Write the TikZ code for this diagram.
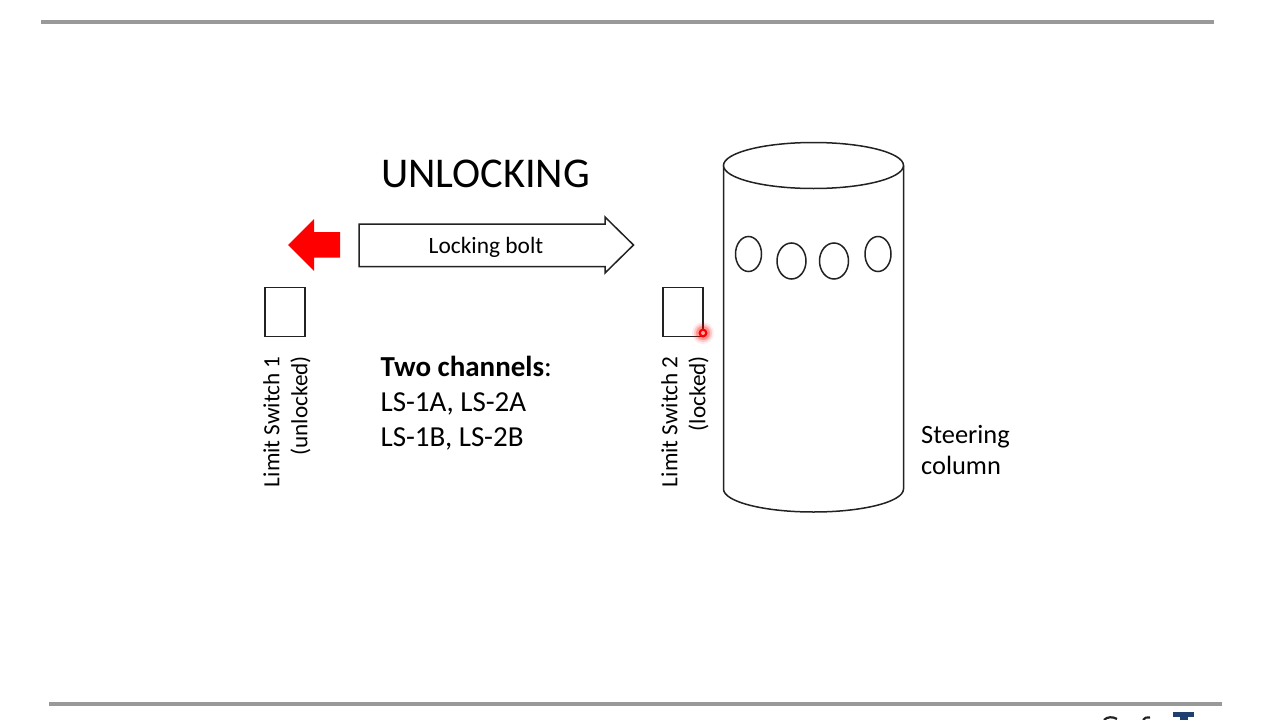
\documentclass[tikz,border=0pt]{standalone}
\usepackage{fontspec}
\setmainfont{Carlito}
\definecolor{rulegray}{HTML}{999999}
\definecolor{logoblue}{HTML}{1F3F6E}
\definecolor{ink}{HTML}{222222}
\tikzset{
  outline/.style={draw=ink,line width=1.5pt,fill=white},
  rulebar/.style={draw=rulegray,line width=3.6pt},
  label/.style={text=black,font=\fontsize{29}{30}\selectfont,inner sep=0pt,anchor=base west},
  vlabel/.style={text=black,font=\fontsize{23.2}{28}\selectfont,inner sep=0pt,rotate=90,align=right},
}
\begin{document}
\begin{tikzpicture}[x=1pt,y=-1pt]
\useasboundingbox[fill=white] (0,0) rectangle (1280,720);
\clip (0,0) rectangle (1280,720);
% rules
\draw[rulebar] (41,22) -- (1214,22);
\draw[rulebar] (49,704) -- (1222,704);
% logo fragment, cut by the page edge
\fill[logoblue] (1173,712) rectangle (1194,716.500);
\fill[logoblue] (1180,716) rectangle (1188,720);
\draw[ink,line width=2.2pt] (1104,720) .. controls (1107,716.500) and (1113,716.500) .. (1117,719);
\draw[ink,line width=2.2pt] (1143,720) .. controls (1144,717.500) and (1147,717) .. (1150,717.500);
% title
\node[text=black,font=\fontsize{42.4}{44}\selectfont,inner sep=0pt,anchor=base] (title) at (485.5,187) {UNLOCKING};
% red arrow
\fill[red] (340,232) -- (314,232) -- (314,219) -- (288,245) -- (314,271) -- (314,257.500) -- (340,257.500) -- cycle;
% bolt
\draw[outline,line join=miter] (359,224) -- (605,224) -- (605,217) -- (633.500,245) -- (605,273) -- (605,266.500) -- (359,266.500) -- cycle;
\node[text=black,font=\fontsize{23.4}{26}\selectfont,inner sep=0pt] (bolt) at (486,247) {Locking bolt};
% limit switches
\node[outline,minimum width=40pt,minimum height=49pt,inner sep=0pt] (ls1) at (285,312) {};
\node[outline,minimum width=40pt,minimum height=49pt,inner sep=0pt] (ls2) at (683,312) {};
\node[vlabel,anchor=north east] (ls1t) at (263,356) {Limit Switch 1\\(unlocked)};
\node[vlabel,anchor=north east] (ls2t) at (661,356) {Limit Switch 2\\(locked)};
% text
\node[label] (ch0) at (380.500,376) {\textbf{Two channels}:};
\node[label] (ch1) at (380.500,411) {LS-1A, LS-2A};
\node[label] (ch2) at (380.500,446) {LS-1B, LS-2B};
% column
\draw[outline] (723.500,165.500) -- (723.500,489) arc[x radius=90,y radius=23,start angle=180,end angle=0] -- (903.500,165.500);
\draw[outline] (813.500,165.500) ellipse[x radius=90,y radius=23];
\draw[outline] (748.500,254) ellipse[x radius=13,y radius=17.500];
\draw[outline] (791.500,261) ellipse[x radius=14.500,y radius=18];
\draw[outline] (834,261) ellipse[x radius=14.500,y radius=18];
\draw[outline] (878,254) ellipse[x radius=13,y radius=17.500];
\node[text=black,font=\fontsize{26.4}{31}\selectfont,inner sep=0pt,align=left,anchor=north west] (sc) at (921,425) {Steering\\column};
% pointer
\fill[red,opacity=.08] (703,333) circle[radius=11];
\fill[red,opacity=.15] (703,333) circle[radius=9];
\fill[red,opacity=.25] (703,333) circle[radius=7];
\fill[red] (703,333) circle[radius=4.500];
\fill[white!65!red] (703,333) circle[radius=2];
\end{tikzpicture}
\end{document}
